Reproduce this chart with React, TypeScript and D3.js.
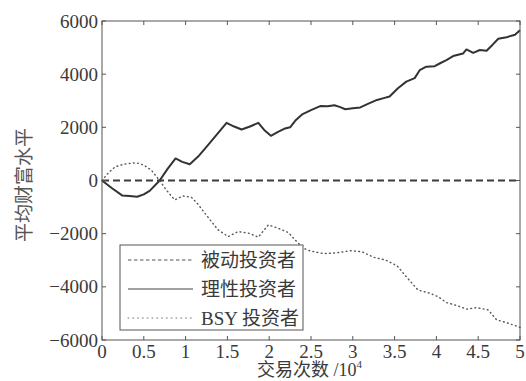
import React from "react";
import * as d3 from "d3";

// x in units of 10^4 trades, y = average wealth
const passive: [number, number][] = [
  [0, 0],
  [5, 0],
];
const rational: [number, number][] = [
  [0, 0], [0.12, -290], [0.24, -560], [0.33, -580], [0.42, -610], [0.5, -520],
  [0.57, -390], [0.69, 0], [0.78, 420], [0.88, 830], [0.96, 700], [1.05, 610],
  [1.15, 900], [1.27, 1340], [1.38, 1750], [1.49, 2170], [1.58, 2030], [1.67, 1920],
  [1.77, 2030], [1.87, 2170], [1.94, 1900], [2.02, 1680], [2.1, 1820], [2.19, 1960],
  [2.25, 2000], [2.32, 2280], [2.4, 2500], [2.5, 2650], [2.61, 2800], [2.7, 2790],
  [2.78, 2830], [2.85, 2760], [2.91, 2680], [3.0, 2720], [3.09, 2750], [3.18, 2880],
  [3.29, 3030], [3.37, 3100], [3.44, 3160], [3.54, 3470], [3.64, 3720], [3.74, 3850],
  [3.8, 4150], [3.88, 4280], [3.98, 4300], [4.05, 4420], [4.12, 4530], [4.2, 4680],
  [4.32, 4780], [4.36, 4930], [4.44, 4800], [4.52, 4910], [4.6, 4880], [4.67, 5100],
  [4.74, 5330], [4.84, 5390], [4.94, 5480], [5, 5650],
];
const bsy: [number, number][] = [
  [0, 0], [0.08, 300], [0.16, 520], [0.27, 620], [0.41, 670], [0.5, 580],
  [0.59, 390], [0.69, 0], [0.77, -360], [0.87, -730], [0.97, -580], [1.07, -630],
  [1.15, -900], [1.23, -1230], [1.31, -1550], [1.39, -1860], [1.51, -2110], [1.63, -1920],
  [1.75, -1980], [1.87, -2130], [1.99, -1670], [2.11, -1800], [2.23, -1960], [2.33, -2300],
  [2.41, -2550], [2.49, -2650], [2.65, -2750], [2.81, -2720], [2.97, -2640], [3.11, -2680],
  [3.25, -2890], [3.39, -2990], [3.53, -3210], [3.64, -3620], [3.78, -4120], [3.92, -4240],
  [4.02, -4370], [4.12, -4590], [4.26, -4720], [4.36, -4840], [4.48, -4780], [4.62, -4870],
  [4.72, -5240], [4.84, -5350], [4.98, -5500], [5, -5530],
];

const xTicks = [0, 0.5, 1, 1.5, 2, 2.5, 3, 3.5, 4, 4.5, 5];
const yTicks = [-6000, -4000, -2000, 0, 2000, 4000, 6000];
const legendLabels = ["被动投资者", "理性投资者", "BSY 投资者"];

const serif = "'Liberation Serif', 'DejaVu Serif', 'Noto Sans CJK SC', serif";

export default function App() {
  const left = 102, right = 520, top = 21, bottom = 340;
  const x = d3.scaleLinear().domain([0, 5]).range([left, right]);
  const y = d3.scaleLinear().domain([-6000, 6000]).range([bottom, top]);
  const line = d3
    .line<[number, number]>()
    .x((d) => x(d[0]))
    .y((d) => y(d[1]));

  const fmtY = (v: number) => (v < 0 ? "\u2212" + Math.abs(v) : String(v));
  const tickLen = 4;
  const axisColor = "#555";
  const textColor = "#3a3a3a";

  const lgX = 120, lgY = 245, lgW = 183, lgH = 85;
  const rowY = [260, 289, 318];

  return (
    <svg
      width={526}
      height={381}
      style={{ position: "absolute", left: 0, top: 0, background: "#fff" }}
    >
      {/* data lines */}
      <path d={line(passive) || ""} fill="none" stroke="#3c3c3c" strokeWidth={2} strokeDasharray="7 4" />
      <path d={line(rational) || ""} fill="none" stroke="#333" strokeWidth={2} strokeLinejoin="round" />
      <path
        d={line(bsy) || ""}
        fill="none"
        stroke="#555"
        strokeWidth={1.4}
        strokeDasharray="0.8 3.4"
        strokeLinecap="round"
      />

      {/* axes box */}
      <rect x={left} y={top} width={right - left} height={bottom - top} fill="none" stroke={axisColor} strokeWidth={1} />
      {xTicks.map((t) => (
        <g key={"x" + t}>
          <line x1={x(t)} x2={x(t)} y1={bottom} y2={bottom - tickLen} stroke={axisColor} />
          <line x1={x(t)} x2={x(t)} y1={top} y2={top + tickLen} stroke={axisColor} />
          <text
            x={x(t)}
            y={358}
            textAnchor="middle"
            fontFamily={serif}
            fontSize={19}
            fill={textColor}
          >
            {String(t)}
          </text>
        </g>
      ))}
      {yTicks.map((t) => (
        <g key={"y" + t}>
          <line x1={left} x2={left + tickLen} y1={y(t)} y2={y(t)} stroke={axisColor} />
          <line x1={right} x2={right - tickLen} y1={y(t)} y2={y(t)} stroke={axisColor} />
          <text
            x={98}
            y={y(t) + 6.5}
            textAnchor="end"
            fontFamily={serif}
            fontSize={19}
            fill={textColor}
          >
            {fmtY(t)}
          </text>
        </g>
      ))}

      {/* axis labels */}
      <text
        transform="translate(31,185) rotate(-90)"
        textAnchor="middle"
        fontFamily={serif}
        fontSize={19}
        fill="#555"
      >
        平均财富水平
      </text>
      <text x={257} y={376} fontFamily={serif} fontSize={18} fill={textColor}>
        交易次数 /10
        <tspan fontSize={11} dy={-8}>
          4
        </tspan>
      </text>

      {/* legend */}
      <rect x={lgX} y={lgY} width={lgW} height={lgH} fill="#fff" stroke={axisColor} strokeWidth={1} />
      <line x1={128} x2={193} y1={rowY[0]} y2={rowY[0]} stroke="#555" strokeWidth={1} strokeDasharray="3.5 2.5" />
      <line x1={128} x2={193} y1={rowY[1]} y2={rowY[1]} stroke="#444" strokeWidth={1.2} />
      <line
        x1={128}
        x2={193}
        y1={rowY[2]}
        y2={rowY[2]}
        stroke="#777"
        strokeWidth={1.2}
        strokeDasharray="0.8 4"
        strokeLinecap="round"
      />
      {legendLabels.map((l, i) => (
        <text key={l} x={201} y={rowY[i] + 7} fontFamily={serif} fontSize={19} fill={textColor}>
          {l}
        </text>
      ))}
    </svg>
  );
}
